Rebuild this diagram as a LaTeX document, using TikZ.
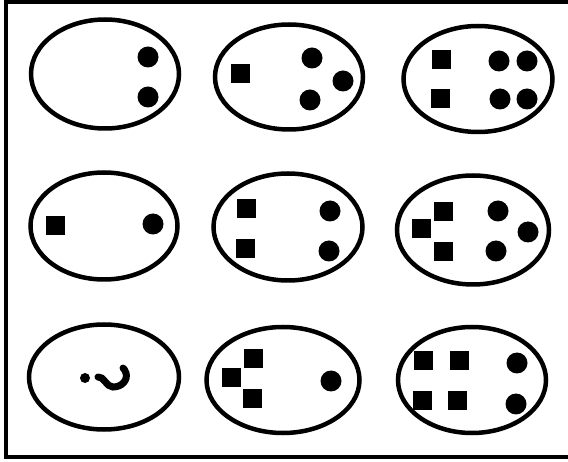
\documentclass[tikz,border=0pt]{standalone}
\usetikzlibrary{shapes.geometric}

\begin{document}
\begin{tikzpicture}[
  x=1pt, y=-1pt,
  frameline/.style={line width=3.5pt},
  set/.style={draw, ellipse, line width=4.5pt, inner sep=0pt},
  sq/.style={fill=black, minimum size=19pt, inner sep=0pt},
  dot/.style={circle, fill=black, minimum size=21pt, inner sep=0pt},
  qstroke/.style={line width=7pt, line cap=round}
]

\useasboundingbox (0,0) rectangle (568,462);

% frame
\coordinate (tl) at (6,2);
\coordinate (tr) at (568,2);
\coordinate (bl) at (6,457);
\coordinate (br) at (568,457);
\draw[frameline] (tr) -- (tl) -- (bl) -- (br);

% top row
\node[set, minimum width=148pt, minimum height=109pt] (s1) at (105,74) {};
\node[dot] (s1c1) at (148,57) {};
\node[dot] (s1c2) at (148,97) {};

\node[set, minimum width=148pt, minimum height=105pt] (s2) at (289,77) {};
\node[sq] (s2q1) at (240,74) {};
\node[dot] (s2c1) at (312,58) {};
\node[dot] (s2c2) at (343,81) {};
\node[dot] (s2c3) at (310,100) {};

\node[set, minimum width=149pt, minimum height=106pt] (s3) at (478,79) {};
\node[sq] (s3q1) at (441,60) {};
\node[sq] (s3q2) at (440,99) {};
\node[dot] (s3c1) at (499,61) {};
\node[dot] (s3c2) at (527,61) {};
\node[dot] (s3c3) at (500,99) {};
\node[dot] (s3c4) at (527,99) {};

% middle row
\node[set, minimum width=147pt, minimum height=107pt] (s4) at (104,226) {};
\node[sq] (s4q1) at (55,226) {};
\node[dot] (s4c1) at (153,224) {};

\node[set, minimum width=149pt, minimum height=107pt] (s5) at (288,227) {};
\node[sq] (s5q1) at (246,209) {};
\node[sq] (s5q2) at (245,249) {};
\node[dot] (s5c1) at (330,211) {};
\node[dot] (s5c2) at (329,251) {};

\node[set, minimum width=152pt, minimum height=109pt] (s6) at (473,230) {};
\node[sq] (s6q1) at (443,212) {};
\node[sq] (s6q2) at (421,229) {};
\node[sq] (s6q3) at (443,252) {};
\node[dot] (s6c1) at (498,211) {};
\node[dot] (s6c2) at (528,232) {};
\node[dot] (s6c3) at (496,251) {};

% bottom row
\node[set, minimum width=150pt, minimum height=105pt] (s7) at (104,377) {};
\node[circle, fill=black, minimum size=10pt, inner sep=0pt] (s7d) at (85,378) {};
\draw[qstroke] (98,377) .. controls (104,376) and (106,387) .. (113,387)
  .. controls (122,387) and (128,380) .. (126,373)
  .. controls (125,370) and (124,369) .. (123,368);

\node[set, minimum width=153pt, minimum height=106pt] (s8) at (283,380) {};
\node[sq] (s8q1) at (253,359) {};
\node[sq] (s8q2) at (231,378) {};
\node[sq] (s8q3) at (252,399) {};
\node[dot] (s8c1) at (331,381) {};

\node[set, minimum width=148pt, minimum height=106pt] (s9) at (472,380) {};
\node[sq] (s9q1) at (423,361) {};
\node[sq] (s9q2) at (459,361) {};
\node[sq] (s9q3) at (422,401) {};
\node[sq] (s9q4) at (457,401) {};
\node[dot] (s9c1) at (517,363) {};
\node[dot] (s9c2) at (516,404) {};

\end{tikzpicture}
\end{document}
